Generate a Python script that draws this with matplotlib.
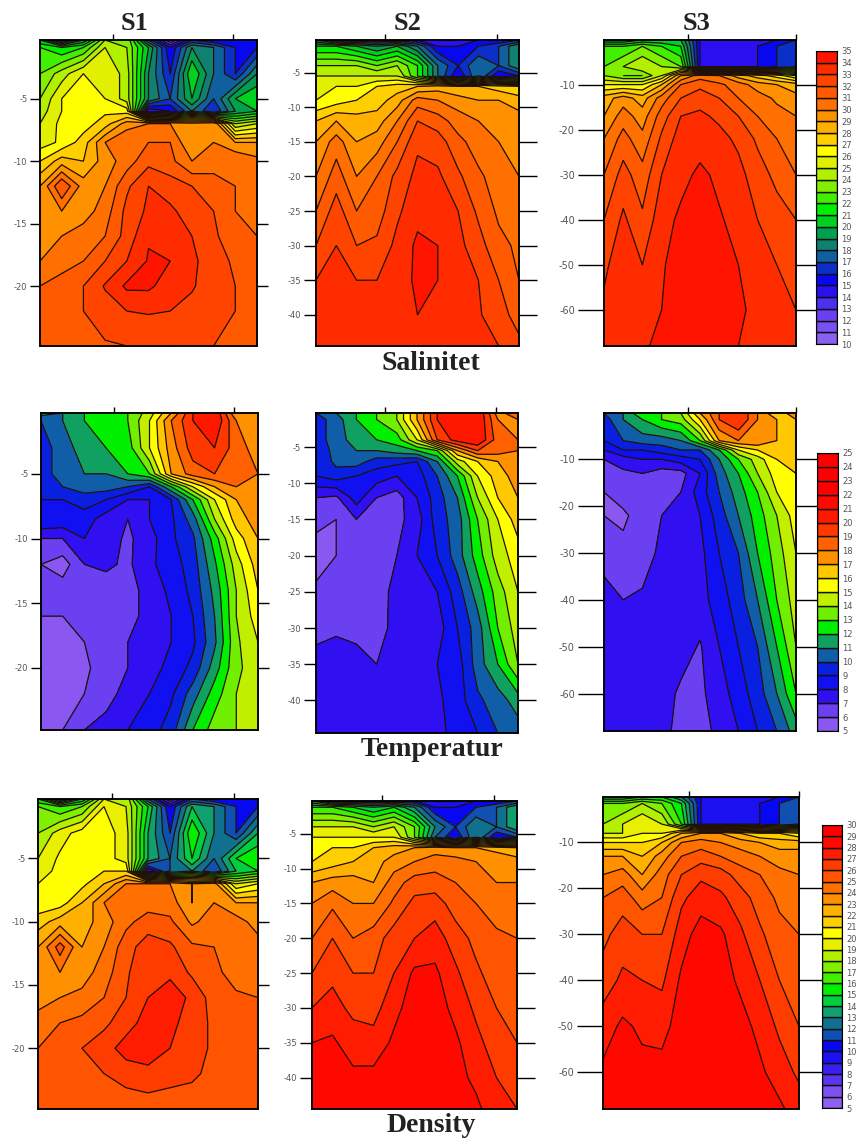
#!/usr/bin/python3

import numpy as np
import matplotlib
matplotlib.use("Agg")
import matplotlib.pyplot as plt
from matplotlib.colors import ListedColormap, BoundaryNorm

# stations along each section (11 columns in every grid below)
stations = np.arange(11)

# depth rows for each station group
depth_s1 = [0.3, 0.9, 3, 5, 6, 7, 8.5, 10, 12, 14, 16, 18, 20, 22, 24.8]
depth_s2 = [0.3, 1.2, 4, 5.5, 7, 9, 12, 15, 20, 25, 30, 35, 40, 44.5]
depth_s3 = [0.1, 1.5, 6, 8, 10, 13, 17, 22, 30, 40, 50, 60, 68]

sal_s1 = [
    [20, 15, 19, 24, 24, 17, 12, 16, 15, 15, 15],
    [22, 21, 22, 25, 24, 20, 15, 19, 18, 16, 16],
    [23, 24.5, 26, 26, 24.5, 19, 16, 21, 18, 16, 19],
    [24, 26, 26.3, 26, 24.5, 19, 17, 20, 17, 20, 21],
    [24.5, 26, 26.5, 26.8, 26.5, 14, 15, 18, 16, 19, 20],
    [25, 26.3, 26.5, 27.5, 29.5, 30, 30, 29.5, 30, 24, 25],
    [25.5, 26.2, 27.5, 30, 31, 31, 31, 29, 30, 29, 29],
    [27, 28.5, 28, 29.5, 30.5, 31.7, 31.3, 30, 30.5, 31, 30.3],
    [29, 32, 29.5, 30, 31.8, 33, 32.5, 32, 31.5, 31, 30.5],
    [29.5, 30, 29.5, 30.5, 32.3, 33.2, 33.2, 32.5, 32, 31, 30.3],
    [29.5, 30, 30.5, 31, 32.4, 33.9, 33.7, 33, 32.2, 31.3, 31],
    [30, 30.5, 31, 32, 33, 34.1, 34, 33.2, 32.5, 31.8, 31.3],
    [31, 31.5, 32, 33.1, 34.2, 34.2, 33.5, 33.1, 32.5, 32, 31.8],
    [31.7, 32, 32, 32.5, 33, 33.1, 33, 32.7, 32.3, 32, 32],
    [32, 32, 32, 31.9, 32, 32.1, 32, 32, 32, 32, 32],
]
sal_s2 = [
    [18, 15, 15, 15, 15, 15, 14, 14, 15, 15, 16],
    [21, 21, 20, 19, 20, 18, 15, 15, 16, 17, 19],
    [24, 24, 24, 23, 24, 22, 18, 16, 18, 17, 19],
    [25, 25, 25, 25, 25, 22, 18, 15, 18, 15, 16],
    [25.5, 26, 26, 27, 27.5, 28, 28.5, 28, 28, 27.5, 27],
    [26, 26.5, 27, 27.5, 28.5, 30.5, 30, 29.5, 29, 29, 28.5],
    [28, 29, 28.5, 28.5, 30, 32, 31.5, 30.5, 30, 29.5, 29.5],
    [29, 30.5, 29, 29.5, 31, 32.8, 32.5, 31.3, 30.5, 30, 30],
    [30, 31.5, 30, 31, 32.3, 33.3, 33.2, 32.2, 31.2, 30.5, 30],
    [31, 32.5, 31, 31.5, 32.8, 33.7, 33.7, 33, 31.8, 30.8, 30.5],
    [32, 33, 32, 32.2, 33.3, 34.2, 34, 33.3, 32.4, 31.3, 30.8],
    [33, 33.5, 33, 33, 33.5, 34.2, 34, 33.5, 33, 32, 31],
    [33.3, 33.6, 33.4, 33.3, 33.5, 34, 33.7, 33.5, 33.1, 32.5, 31.5],
    [33.4, 33.5, 33.5, 33.4, 33.5, 33.5, 33.5, 33.4, 33.3, 33, 32.3],
]
sal_s3 = [
    [19, 19, 20, 20, 20, 15, 15, 15, 15, 15, 16],
    [22, 22, 23, 22, 21, 15, 15, 15, 15, 16, 17],
    [23, 24, 25, 24, 23, 15, 15, 15, 15, 16, 17],
    [24, 23, 23, 25, 29, 30.5, 30, 28.5, 27.5, 26.5, 25],
    [26, 26, 26, 28, 31, 31.7, 31.2, 30.5, 29.5, 29, 28.5],
    [28.5, 29.5, 28.5, 30.5, 32, 32.6, 32, 31, 30.5, 29.8, 29.3],
    [29, 30.5, 29.5, 31.5, 33, 33.2, 32.8, 32, 31, 30.4, 30],
    [30, 31.4, 30.3, 32.2, 33.5, 33.6, 33.3, 32.8, 31.8, 31, 30.5],
    [31, 32.4, 31.4, 33, 33.7, 34.2, 33.8, 33.3, 32.5, 31.7, 31],
    [32, 33.2, 32.2, 33.6, 34.2, 34.5, 34.1, 33.7, 33, 32.5, 32],
    [32.8, 33.6, 33, 33.9, 34.4, 34.5, 34.1, 34, 33.4, 33, 32.5],
    [33.2, 33.7, 33.5, 34, 34.5, 34.5, 34.3, 34.2, 33.7, 33.3, 33],
    [33.5, 33.7, 33.7, 34.5, 34.5, 34.5, 34.3, 34, 33.9, 33.6, 33.3],
]

temp_s1 = [
    [11.5, 11, 12, 13, 13, 14.5, 17, 20, 21, 17, 18],
    [10, 11, 12, 13, 13, 15, 18, 20, 21, 18, 17],
    [9.5, 10.5, 11.5, 12, 12.5, 15, 17.5, 19.5, 20, 18.5, 17.5],
    [9.5, 10.5, 11, 11, 12, 13, 17, 18.5, 19, 18.5, 18],
    [9.5, 10, 10.5, 10.5, 10, 9, 12, 15, 17, 18, 17.5],
    [9, 9, 9.5, 9, 8, 8, 9, 12, 15, 17, 17.5],
    [9, 8.8, 8.5, 7.5, 7, 8, 8.8, 10.5, 14, 16.5, 17.5],
    [7, 7, 8, 7.5, 6.8, 7.6, 8.8, 9.8, 12.5, 15.5, 17],
    [6, 5.5, 7, 7.2, 6.8, 7.8, 8.5, 9.5, 11.8, 14.5, 16.5],
    [6.5, 6.5, 7, 6.5, 6.5, 7.5, 8.2, 9.3, 11.3, 14, 16],
    [6, 6, 6.5, 6.3, 6.5, 7.5, 8, 9, 11, 14, 15.5],
    [5.5, 5.7, 6, 6.4, 7, 8, 8, 8.8, 10.8, 13.8, 15],
    [5.2, 5.4, 5.8, 6.5, 7, 7.6, 8.3, 9.3, 11.5, 13.8, 14.5],
    [5.2, 5.5, 6, 6.5, 7.5, 8, 8.8, 10.5, 12.5, 14, 14.5],
    [5.5, 6, 7, 7.5, 8, 8.5, 9.5, 12, 13.5, 14, 15],
]
temp_s2 = [
    [10, 11, 12, 13, 14, 17, 20, 21, 21, 17.5, 19],
    [9.5, 10.5, 12, 13, 14, 17, 20, 21, 21, 18, 18],
    [9.5, 10.5, 11.5, 12, 12.5, 15, 19, 20.5, 21, 18.5, 18],
    [9, 10.5, 11, 11, 11.5, 12, 13, 17, 19, 18.5, 18],
    [9, 10.3, 10.5, 9.5, 9.3, 9, 11, 14.5, 16, 17, 18],
    [9, 9.5, 9, 8.5, 8, 8.5, 10, 12, 15, 16.5, 17.5],
    [7, 6.8, 8.5, 7, 6.5, 8, 9.5, 11, 14, 16, 17],
    [6.3, 6, 7, 7, 6.7, 7.5, 9.5, 10.5, 13, 15, 16.5],
    [5.5, 6, 6.7, 6, 7, 8, 9, 10.5, 12.5, 14.5, 15.5],
    [6.2, 6.5, 7, 6.3, 7.5, 7.5, 8, 9.5, 11.5, 13.5, 15],
    [6.3, 6.7, 6.6, 6.4, 7.5, 7.5, 7.5, 9, 10.5, 13, 14.5],
    [7.8, 8, 7.5, 7, 7.5, 7.5, 8, 8.5, 10.5, 12, 14],
    [8, 7.6, 7.5, 7.5, 7.5, 7.5, 7.8, 8.5, 9.8, 10.5, 11.5],
    [8, 7.6, 7.5, 7.5, 7.5, 7.5, 7.6, 8.5, 9, 10, 10.5],
]
temp_s3 = [
    [10, 11, 13, 13, 14, 17, 19, 20, 18, 16, 18],
    [9.5, 11, 12, 13, 13.5, 16, 19, 20, 18, 17, 17],
    [9, 10, 10.5, 10.5, 11, 13, 17, 18, 18, 17, 17],
    [8, 9, 9, 9.5, 10, 10, 12, 15, 16, 16.5, 17],
    [7, 7.5, 8, 8, 8.5, 9, 11, 13, 14.5, 16, 16.5],
    [6.5, 6.8, 7, 6.5, 6.6, 8, 10.5, 12, 14, 15.5, 16],
    [6, 6.5, 6.8, 6.5, 7, 8.5, 10, 11.5, 13, 15, 15.5],
    [6, 5.8, 6.5, 7, 7.5, 8, 9.5, 11, 12.5, 14, 15.5],
    [6.7, 6.3, 6.4, 7.3, 7.5, 7.7, 9, 10, 12, 13.5, 15],
    [7.3, 7, 7.2, 7.5, 7.5, 7.6, 8.5, 9.5, 11, 13, 14.5],
    [7.5, 7.5, 7.5, 7.5, 7.5, 6.9, 8, 9, 10, 12, 14],
    [7.5, 7.5, 7.5, 7.5, 6.8, 6.8, 7.5, 8.5, 9.5, 11, 13],
    [7.5, 7.5, 7.5, 7.3, 6.7, 6.7, 7.2, 8, 9, 10, 11.5],
]

dens_s1 = [
    [15, 10, 14, 19, 19, 12, 7, 11, 10, 10, 10],
    [17, 16, 17, 20, 19, 15, 10, 14, 13, 11, 11],
    [18, 19.5, 20.5, 20.5, 19.5, 14, 11, 16, 13, 11, 14],
    [19, 20.2, 20.5, 20.5, 19.5, 14, 12, 15, 12, 15, 16],
    [19.5, 20.3, 20.7, 21, 21, 9, 12, 13, 11, 14, 15],
    [20, 20.5, 20.7, 22, 24, 24, 24, 23, 23.5, 19, 20],
    [20.3, 20.5, 22, 24, 24.5, 24.5, 24.5, 23, 24, 23, 23],
    [21.5, 22.5, 22.5, 23.5, 24.7, 25.5, 25.2, 23.8, 24.5, 24.5, 23.5],
    [23, 25.5, 23, 24, 25.6, 26.5, 26.2, 25.2, 25, 24.5, 24.5],
    [23.5, 24, 23.5, 24.5, 25.8, 27, 26.8, 25.8, 25.3, 24.5, 24.7],
    [23.5, 24, 24.3, 25, 26, 27, 27.5, 26.8, 25.5, 25.2, 25],
    [24.5, 25, 25.3, 25.8, 26.5, 27.5, 27.3, 26.5, 25.8, 25.5, 25.3],
    [25, 25.2, 26, 26.5, 27.5, 27.8, 27, 26.5, 25.8, 25.5, 25.4],
    [25.5, 25.5, 25.7, 26, 26.4, 26.6, 26.4, 26.2, 25.7, 25.5, 25.4],
    [25.4, 25.4, 25.4, 25.3, 25.4, 25.5, 25.4, 25.4, 25.4, 25.4, 25.4],
]
dens_s2 = [
    [13, 10, 10, 10, 10, 10, 9, 9, 10, 10, 11],
    [16, 16, 15, 14, 15, 13, 10, 10, 11, 12, 14],
    [19, 19, 19, 18, 19, 17, 13, 11, 13, 12, 14],
    [20, 20, 20, 20, 20, 17, 12, 10, 13, 10, 11],
    [20.5, 21, 21, 22, 22.5, 23, 23.5, 23, 23, 22.5, 22],
    [21, 21.5, 22, 22.5, 23.5, 24, 24.5, 24.5, 24, 24, 23.5],
    [23, 23.5, 23.5, 23, 24.5, 25.5, 25.5, 25, 24.5, 24, 24],
    [24, 24.8, 24, 24, 25.2, 26.3, 26.5, 25.5, 25, 24.5, 24.5],
    [25, 26, 25, 25.5, 26.5, 27, 27.5, 26.5, 25.7, 25.2, 25],
    [26, 26.8, 26, 26, 27, 28.2, 28.2, 27.2, 26.2, 25.5, 25.5],
    [27, 27.3, 26.8, 26.6, 27.7, 28.5, 28.5, 27.7, 26.8, 26, 25.8],
    [28, 28.2, 27.4, 27.4, 28.2, 28.6, 28.6, 28.2, 27.3, 26.5, 26],
    [28.3, 28.3, 28.3, 28.3, 28.4, 28.6, 28.6, 28.3, 27.8, 27, 26.5],
    [28.3, 28.3, 28.3, 28.3, 28.3, 28.4, 28.4, 28.3, 28.2, 27.5, 27],
]
dens_s3 = [
    [14, 14, 15, 15, 13, 10, 10, 10, 10, 10, 11],
    [17, 17, 18, 17, 15, 10, 10, 10, 10, 11, 12],
    [18, 19, 20, 19, 16, 10, 10, 10, 10, 11, 12],
    [19, 19, 20, 20, 22, 23, 23, 22, 21, 21, 20],
    [21, 21, 21, 22, 24, 24.5, 24, 23.5, 23, 22.5, 22.5],
    [23, 23, 22, 23.5, 25, 25.5, 25, 24.5, 24, 23.5, 23.5],
    [24, 24.5, 23, 24.5, 26, 26.8, 26.5, 25.5, 25, 24.3, 24],
    [25, 25.5, 24.5, 25, 26.8, 27.5, 27.2, 26.5, 25.5, 24.8, 24.4],
    [25.7, 26.5, 26, 26, 27.5, 28.5, 28.2, 27.2, 26.2, 25.3, 25],
    [26.5, 27.2, 27, 26.8, 28.2, 28.6, 28.5, 27.8, 27, 26, 25.5],
    [27.5, 28.2, 27.8, 27.7, 28.4, 28.6, 28.6, 28.4, 27.7, 26.8, 26],
    [28.2, 28.3, 28.3, 28.3, 28.5, 28.6, 28.6, 28.5, 28.2, 27.5, 26.8],
    [28.4, 28.4, 28.4, 28.4, 28.5, 28.6, 28.6, 28.5, 28.4, 28.2, 27.5],
]

# colour of each interval, bottom of the scale first
sal_colors = ["#8a60f0", "#7a50f0", "#6a40f0", "#4a30f0", "#2a10f0", "#0808f0", "#0a30c8",
              "#1060a0", "#108070", "#00a050", "#00d020", "#00f000", "#40f000", "#80f000",
              "#b0f000", "#e0f000", "#ffff00", "#ffd000", "#ffb000", "#ff9000", "#ff7000",
              "#ff5a00", "#ff4400", "#ff2c00", "#ff1400"]
temp_colors = ["#8a58f0", "#6a40f0", "#3010f0", "#1010f0", "#0a20e0", "#105ea8", "#10a060",
               "#00f000", "#70f000", "#c0f000", "#ffff00", "#ffc800", "#ff9000", "#ff6000",
               "#ff3800", "#ff1800", "#ff0800", "#ff0000", "#ff0000", "#ff0000"]
dens_colors = ["#9060f0", "#7a50f0", "#5a35f0", "#3820f0", "#1a10f0", "#0808f0", "#1050b0",
               "#107090", "#10a070", "#00d040", "#00f000", "#40f000", "#80f000", "#b0f000",
               "#e8f000", "#ffff00", "#ffd000", "#ffb000", "#ff9000", "#ff7000", "#ff5400",
               "#ff3c00", "#ff1c00", "#ff0800", "#ff0000"]

sal_levels = np.arange(10, 36)
temp_levels = np.arange(5, 26)
dens_levels = np.arange(5, 31)

W, H = 856, 1140


def px_axes(fig, left, top, right, bottom):
    # axes placed by reference pixel box
    return fig.add_axes([left/W, 1-bottom/H, (right-left)/W, (bottom-top)/H])


def draw_panel(fig, box, depth, grid, levels, colors, yticks, toptick, lab=6, ltick=7, rtick=8):
    ax = px_axes(fig, *box)
    cmap = ListedColormap(colors)
    norm = BoundaryNorm(levels, cmap.N)
    z = np.array(grid, dtype=float)
    d = np.array(depth, dtype=float)
    ax.contourf(stations, -d, z, levels=levels, cmap=cmap, norm=norm, extend="both")
    ax.contour(stations, -d, z, levels=levels, colors="#201008", linewidths=0.9)
    ax.set_xlim(0, 10)
    ax.set_ylim(-depth[-1], -depth[0])
    ax.set_xticks(toptick)
    ax.set_xticklabels([])
    ax.xaxis.tick_top()
    ax.tick_params(axis="x", length=4, width=1)
    ax.set_yticks(yticks)
    ax.set_yticklabels([str(t) for t in yticks], fontsize=lab, color="#555555",
                       family="DejaVu Sans")
    ax.tick_params(axis="y", length=ltick, width=1, pad=2, left=True)
    ax2 = ax.twinx()
    ax2.set_ylim(ax.get_ylim())
    ax2.set_yticks(yticks)
    ax2.set_yticklabels([])
    ax2.tick_params(axis="y", length=rtick, width=1)
    for sp in list(ax.spines.values()) + list(ax2.spines.values()):
        sp.set_linewidth(1.1)
    return ax


def draw_scale(fig, box, levels, colors):
    ax = px_axes(fig, *box)
    n = len(levels)-1
    ax.barh(np.arange(n), np.ones(n), height=1, left=0, color=colors,
            edgecolor="#101010", linewidth=1.0)
    ax.set_xlim(0, 1)
    ax.set_ylim(-0.5, n-0.5)
    ax.set_xticks([])
    ax.set_yticks(np.arange(n+1)-0.5)
    ax.set_yticklabels([str(v) for v in levels], fontsize=6, color="#555555")
    ax.yaxis.tick_right()
    ax.tick_params(axis="y", length=0, pad=3)


fig = plt.figure(figsize=(W/100, H/100), dpi=100)

ticks1 = [-5, -10, -15, -20]
ticks2 = [-5, -10, -15, -20, -25, -30, -35, -40]
ticks3 = [-10, -20, -30, -40, -50, -60]
top1 = [3.36, 8.9]
top2 = [3.4, 8.9]
top3 = [4.4, 10]

draw_panel(fig, (40, 40, 257, 346), depth_s1, sal_s1, sal_levels, sal_colors, ticks1, top1)
draw_panel(fig, (316, 40, 519, 346), depth_s2, sal_s2, sal_levels, sal_colors, ticks2, top2, ltick=9, rtick=13)
draw_panel(fig, (604, 40, 796, 346), depth_s3, sal_s3, sal_levels, sal_colors, ticks3, top3, lab=7, ltick=19, rtick=17)
draw_scale(fig, (816, 51, 837, 344), sal_levels, sal_colors)

draw_panel(fig, (41, 413, 258, 730), depth_s1, temp_s1, temp_levels, temp_colors, ticks1, top1)
draw_panel(fig, (316, 413, 518, 733), depth_s2, temp_s2, temp_levels, temp_colors, ticks2, top2, ltick=9, rtick=13)
draw_panel(fig, (604, 413, 796, 731), depth_s3, temp_s3, temp_levels, temp_colors, ticks3, top3, lab=7, ltick=19, rtick=17)
draw_scale(fig, (817, 453, 838, 731), temp_levels, temp_colors)

draw_panel(fig, (38, 799, 258, 1109), depth_s1, dens_s1, dens_levels, dens_colors, ticks1, top1)
draw_panel(fig, (312, 801, 517, 1109), depth_s2, dens_s2, dens_levels, dens_colors, ticks2, top2, ltick=9, rtick=13)
draw_panel(fig, (603, 797, 799, 1109), depth_s3, dens_s3, dens_levels, dens_colors, ticks3, top3, lab=7, ltick=19, rtick=17)
draw_scale(fig, (822, 825, 842, 1108), dens_levels, dens_colors)

# column heads and row captions
for label, x in [("S1", 135), ("S2", 408), ("S3", 697)]:
    fig.text(x/W, 1-23/H, label, ha="center", va="center", fontsize=19,
             fontweight="bold", family="Liberation Serif", color="#222222")
for label, x, y in [("Salinitet", 431, 363), ("Temperatur", 432, 749), ("Density", 431, 1126)]:
    fig.text(x/W, 1-y/H, label, ha="center", va="center", fontsize=20,
             fontweight="bold", family="Liberation Serif", color="#222222")

plt.savefig("out.png", dpi=100)
